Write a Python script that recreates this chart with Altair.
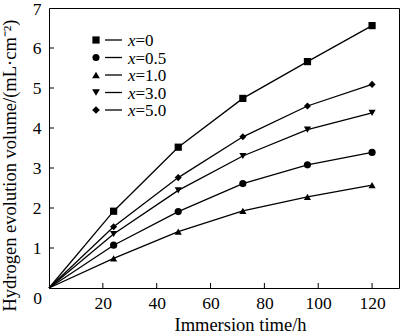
import altair as alt
import pandas as pd

time_h = [0, 24, 48, 72, 96, 120]
series = ["x=0", "x=0.5", "x=1.0", "x=3.0", "x=5.0"]
suffix = ["=0", "=0.5", "=1.0", "=3.0", "=5.0"]
vol_x0 = [0, 1.92, 3.52, 4.74, 5.66, 6.56]
vol_x05 = [0, 1.07, 1.91, 2.61, 3.08, 3.39]
vol_x1 = [0, 0.74, 1.41, 1.93, 2.28, 2.57]
vol_x3 = [0, 1.35, 2.44, 3.30, 3.96, 4.38]
vol_x5 = [0, 1.53, 2.76, 3.78, 4.55, 5.09]
shapes = ["square", "circle", "triangle-up", "triangle-down", "diamond"]
sizes = [52, 50, 60, 60, 60]
x_ticks = [0, 20, 40, 60, 80, 100, 120]
y_ticks = [0, 1, 2, 3, 4, 5, 6, 7]

rows = []
for name, vals in zip(series, [vol_x0, vol_x05, vol_x1, vol_x3, vol_x5]):
    for t, v in zip(time_h, vals):
        rows.append({"series": name, "t": t, "v": v})
df = pd.DataFrame(rows)

FONT = "Liberation Serif"
xscale = alt.Scale(domain=[0, 130], nice=False, zero=True)
yscale = alt.Scale(domain=[0, 7], nice=False)

x_axis = alt.Axis(
    values=x_ticks, grid=False, domain=False, ticks=False,
    title="Immersion time/h", titleFontSize=18.5, titleFontWeight="normal",
    titleX=191, titleY=42, titleBaseline="alphabetic",
    labelFontSize=17.5, labelColor="black", titleColor="black",
    labelPadding={"condition": {"test": "datum.value == 0", "value": 1}, "value": 6},
    labelOffset={"condition": {"test": "datum.value == 0", "value": -12}, "value": 0},
    labelFlush=False, labelOverlap=False,
)
y_axis = alt.Axis(
    values=y_ticks, grid=False, domain=False, ticks=False,
    title="Hydrogen evolution volume/(mL·cm⁻²)", titleFontSize=18.5,
    titleFontWeight="normal", titleX=-30, titleY=157,
    labelFontSize=17.5, labelColor="black", titleColor="black",
    labelPadding=8, labelFlush=False, labelOverlap=False,
    labelOffset={"condition": {"test": "datum.value == 7", "value": 1.5}, "value": 0},
    labelExpr="datum.value == 0 ? '' : datum.label",
)

lines = alt.Chart(df).mark_line(color="black", strokeWidth=1.3).encode(
    x=alt.X("t:Q", scale=xscale, axis=x_axis),
    y=alt.Y("v:Q", scale=yscale, axis=y_axis),
    detail="series:N",
)
points = alt.Chart(df).transform_filter("datum.t > 0").mark_point(
    filled=True, color="black", opacity=1
).encode(
    x=alt.X("t:Q", scale=xscale, axis=x_axis),
    y=alt.Y("v:Q", scale=yscale, axis=y_axis),
    shape=alt.Shape("series:N", scale=alt.Scale(domain=series, range=shapes), legend=None),
    size=alt.Size("series:N", scale=alt.Scale(domain=series, range=sizes), legend=None),
)

xt = pd.DataFrame({"t": x_ticks[1:]})
yt = pd.DataFrame({"v": y_ticks[1:-1]})
xtick_rules = alt.Chart(xt).mark_rule(color="black", strokeWidth=1).encode(
    x=alt.X("t:Q", scale=xscale, axis=x_axis), y=alt.value(280), y2=alt.value(275)
)
ytick_rules = alt.Chart(yt).mark_rule(color="black", strokeWidth=1).encode(
    y=alt.Y("v:Q", scale=yscale, axis=y_axis), x=alt.value(0), x2=alt.value(5)
)

legend_layers = []
row_y = [32, 49.5, 67, 84.5, 102]
for i, name in enumerate(series):
    ld = pd.DataFrame({"series": [name], "sfx": [suffix[i]]})
    base = alt.Chart(ld)
    legend_layers.append(
        base.mark_point(filled=True, color="black", opacity=1, shape=shapes[i], size=sizes[i]).encode(
            x=alt.value(47), y=alt.value(row_y[i])
        )
    )
    legend_layers.append(
        base.mark_rule(color="black", strokeWidth=1.3).encode(
            x=alt.value(56), x2=alt.value(73), y=alt.value(row_y[i])
        )
    )
    legend_layers.append(
        base.mark_text(font=FONT, fontSize=17, fontStyle="italic", align="left",
                       baseline="middle", color="black", text="x").encode(
            x=alt.value(79), y=alt.value(row_y[i] + 1)
        )
    )
    legend_layers.append(
        base.mark_text(font=FONT, fontSize=17, align="left",
                       baseline="middle", color="black").encode(
            x=alt.value(86.5), y=alt.value(row_y[i] + 1), text="sfx:N"
        )
    )

chart = alt.layer(lines, points, xtick_rules, ytick_rules, *legend_layers).properties(
    width=350, height=280,
    autosize=alt.AutoSizeParams(type="none"),
    padding={"left": 49, "top": 8, "right": 1, "bottom": 46},
).configure(font=FONT).configure_view(
    stroke="black", strokeWidth=1
).configure_axis(labelFont=FONT, titleFont=FONT, labelOverlap=False)

chart.save("out.html", embed_options={"renderer": "svg", "actions": False})
